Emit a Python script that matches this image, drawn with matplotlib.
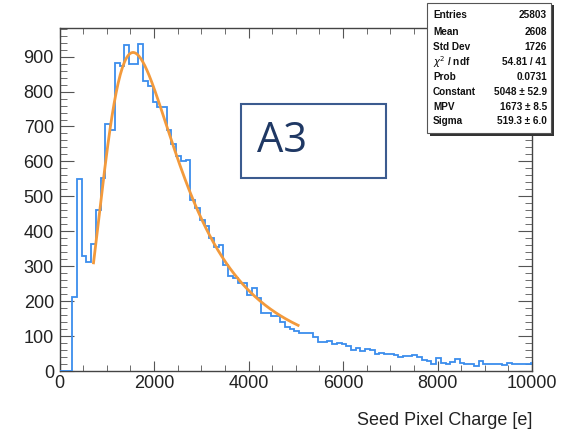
import numpy as np
import matplotlib
matplotlib.use("Agg")
import matplotlib.pyplot as plt
from matplotlib.patches import Rectangle
from matplotlib.ticker import MultipleLocator

plt.rcParams['font.family'] = ['Liberation Sans', 'DejaVu Sans']

# ---------------- data ----------------
bin_width = 100
first_edge = -30
counts = [
    0, 0, 0, 211, 549, 328, 313, 364, 461, 552,
    708, 691, 883, 874, 934, 878, 878, 937, 829, 815,
    769, 757, 755, 690, 650, 615, 600, 605, 490, 468,
    432, 414, 380, 355, 361, 304, 272, 266, 252, 253,
    218, 237, 208, 166, 166, 158, 157, 139, 126, 120,
    115, 110, 108, 108, 98, 84, 83, 86, 78, 80,
    76, 72, 61, 65, 58, 64, 61, 48, 52, 49,
    49, 47, 39, 43, 43, 46, 39, 32, 29, 20,
    36, 24, 20, 27, 33, 22, 19, 19, 14, 29,
    20, 19, 19, 19, 16, 24, 20, 20, 20, 21, 24,
]
# fit parameters (Landau) from the stats box
fit_constant = 5048.0
fit_mpv = 1673.0
fit_sigma = 519.3
fit_range = (720, 5050)

stat_labels = ["Entries", "Mean", "Std Dev", r"$\chi^2$ / ndf", "Prob",
               "Constant", "MPV", "Sigma"]
stat_values = ["25803", "2608", "1726", "54.81 / 41", "0.0731",
               "5048 ± 52.9", "1673 ± 8.5", "519.3 ± 6.0"]

x_label = "Seed Pixel Charge [e]"
box_text = "A3"

# ---------------- figure ----------------
W, H = 562, 429
fig = plt.figure(figsize=(W / 100, H / 100), dpi=100)
ax = fig.add_axes([59.5 / W, 1 - 371 / H, (532 - 59.5) / W, (371 - 28) / H])

edges = first_edge + bin_width * np.arange(len(counts) + 1)
ax.stairs(counts, edges, color='#3b8ded', linewidth=1.3, baseline=0, zorder=3)


def landau(lam):
    t = np.linspace(1e-9, 40, 30001)
    lam = np.atleast_1d(lam)[:, None]
    integ = np.exp(-t * np.log(t) - lam * t) * np.sin(np.pi * t)
    return np.trapezoid(integ, t, axis=1) / np.pi


xf = np.linspace(fit_range[0], fit_range[1], 200)
yf = fit_constant * landau((xf - fit_mpv) / fit_sigma)
ax.plot(xf, yf, color='#f39a3c', linewidth=2.0, zorder=4)

ax.set_xlim(0, 10000)
ax.set_ylim(0, 982)
ax.xaxis.set_major_locator(MultipleLocator(2000))
ax.xaxis.set_minor_locator(MultipleLocator(500))
ax.yaxis.set_major_locator(MultipleLocator(100))
ax.yaxis.set_minor_locator(MultipleLocator(20))

tick_col = '#555555'
ax.tick_params(axis='both', which='both', direction='in', top=True, right=True,
               color=tick_col, labelcolor='#222222', labelsize=13)
ax.tick_params(axis='y', which='major', length=10, pad=4)
ax.tick_params(axis='y', which='minor', length=5)
ax.tick_params(axis='x', which='major', length=7.5, pad=3)
ax.tick_params(axis='x', which='minor', length=4)
for s in ax.spines.values():
    s.set_color('#444444')
    s.set_linewidth(1.0)

ax.set_xlabel(x_label, fontsize=13, color='#222222')
ax.xaxis.set_label_coords(1.0, -0.12)
ax.xaxis.label.set_horizontalalignment('right')

# A3 box
fig.patches.append(Rectangle((240.7 / W, 1 - 177.7 / H), (386 - 240.7) / W, (177.7 - 104.3) / H,
                             transform=fig.transFigure, fill=False,
                             edgecolor='#3b5b8f', linewidth=1.5, zorder=5))
fig.text(257 / W, 1 - 141 / H, box_text, fontsize=30, color='#1f3864',
         family=['Open Sans', 'DejaVu Sans'], va='center', ha='left')

# stats box
bx0, by0, bx1, by1 = 427, 3, 551, 133
fig.patches.append(Rectangle(((bx0 + 2.5) / W, 1 - (by1 + 2.5) / H), (bx1 - bx0) / W, (by1 - by0) / H,
                             transform=fig.transFigure, facecolor='#333333',
                             edgecolor='none', zorder=6))
fig.patches.append(Rectangle((bx0 / W, 1 - by1 / H), (bx1 - bx0) / W, (by1 - by0) / H,
                             transform=fig.transFigure, facecolor='white',
                             edgecolor='#555555', linewidth=0.8, zorder=7))
row_y = [15.5, 32, 47.5, 62, 77, 92, 107, 121.5]
for lab, val, yy in zip(stat_labels, stat_values, row_y):
    fig.text(433 / W, 1 - yy / H, lab, fontsize=7.2, fontweight='bold',
             color='#111111', va='center', ha='left', zorder=8)
    fig.text(547 / W, 1 - yy / H, val, fontsize=7.2, fontweight='bold',
             color='#111111', va='center', ha='right', zorder=8)

fig.savefig("out.png", dpi=100)
